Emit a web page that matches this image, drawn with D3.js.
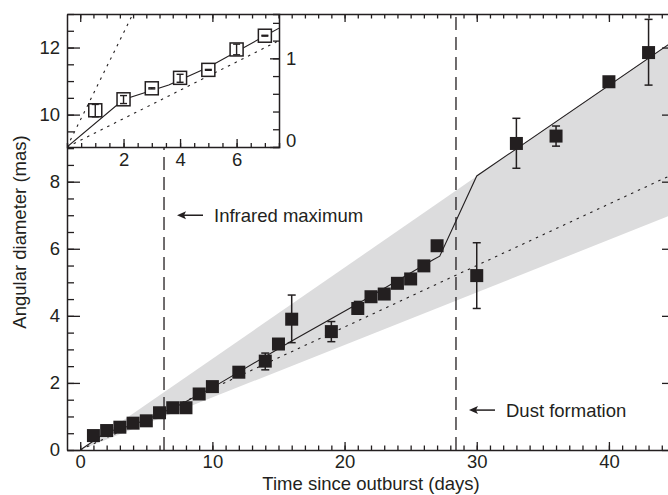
<!DOCTYPE html>
<html>
<head>
<meta charset="utf-8">
<script src="https://cdn.jsdelivr.net/npm/d3@7"></script>
<style>
  body { margin: 0; background: #fff; }
  svg { display: block; font-family: "Liberation Sans", Arial, sans-serif; }
</style>
</head>
<body>
<svg id="chart" width="668" height="495"></svg>
<script>
// measured angular diameters (main panel)
const days = [1, 2, 3, 4, 5, 6, 7, 8, 9, 10, 12, 14, 15, 16, 19, 21, 22, 23, 24, 25, 26, 27, 30, 33, 36, 40, 43]
const diameters = [0.43, 0.58, 0.68, 0.80, 0.87, 1.11, 1.26, 1.26, 1.67, 1.89, 2.32, 2.65, 3.16, 3.90, 3.53, 4.22, 4.57, 4.65, 4.97, 5.10, 5.49, 6.09, 5.20, 9.14, 9.36, 10.98, 11.85]

// error bars (main panel)
const errDays = [14, 16, 19, 21, 30, 33, 36, 43]
const errLow = [2.39, 3.20, 3.23, 4.05, 4.22, 8.40, 9.06, 10.88]
const errHigh = [2.89, 4.62, 3.83, 4.43, 6.18, 9.89, 9.66, 12.84]

// model curves (main panel)
const solidDays = [0, 2, 3.6, 5, 7.5, 10, 16, 21, 26.7, 27.2, 30, 45]
const solidValues = [0, 0.535, 0.70, 0.90, 1.34, 1.86, 3.25, 4.36, 5.67, 5.78, 8.17, 12.22]
const dottedDays = [0, 45]
const dottedValues = [0, 8.25]
const bandDays = [0, 45]
const bandLow = [0, 7.05]
const bandHigh = [0, 12.24]

// events
const eventDays = [6.34, 28.43]
const eventLabels = ['Infrared maximum', 'Dust formation']
const eventLabelY = [7.0, 1.19]

// inset panel (first week)
const insetDays = [1, 2, 3, 4, 5, 6, 7]
const insetValues = [0.414, 0.538, 0.662, 0.78, 0.87, 1.10, 1.255]
const insetLow = [0.34, 0.49, 0.655, 0.73, 0.865, 1.04, 1.25]
const insetHigh = [0.48, 0.58, 0.668, 0.82, 0.875, 1.16, 1.26]
const insetSolidDays = [0, 2, 3.6, 5, 7.5]
const insetSolidValues = [0, 0.535, 0.70, 0.90, 1.34]
const insetSteepDays = [0, 2.33]
const insetSteepValues = [0, 1.5]
const insetShallowDays = [0, 7.5]
const insetShallowValues = [0, 1.2]

// tick labels
const xMajor = [0, 10, 20, 30, 40]
const yMajor = [0, 2, 4, 6, 8, 10, 12]
const insetXMajor = [2, 4, 6]
const insetYMajor = [0, 1]

function makeChart() {
  const svg = d3.select('#chart')
  const ink = '#231f20'
  const fontSize = '18.5px'

  const x = d3.scaleLinear().domain([-1, 45]).range([67, 675])
  const y = d3.scaleLinear().domain([0, 13]).range([450, 14])
  const ix = d3.scaleLinear().domain([0, 7.5]).range([67, 279])
  const iy = d3.scaleLinear().domain([0, 1.5]).range([147, 14])

  const zip = (a, b) => a.map((d, i) => [d, b[i]])

  // grey band
  svg.append('path')
    .datum(bandDays.map((d, i) => [d, bandLow[i], bandHigh[i]]))
    .attr('d', d3.area().x(d => x(d[0])).y0(d => y(d[1])).y1(d => y(d[2])))
    .attr('fill', '#dcdcdd')

  // dotted line
  svg.append('path')
    .datum(zip(dottedDays, dottedValues))
    .attr('d', d3.line().x(d => x(d[0])).y(d => y(d[1])))
    .attr('fill', 'none').attr('stroke', ink).attr('stroke-width', 1.1)
    .attr('stroke-dasharray', '2.5,5')

  // event lines
  svg.selectAll('.event')
    .data(eventDays)
    .join('line')
    .attr('class', 'event')
    .attr('x1', d => x(d)).attr('x2', d => x(d))
    .attr('y1', y(0)).attr('y2', y(13))
    .attr('stroke', ink).attr('stroke-width', 1.3)
    .attr('stroke-dasharray', '13,7')

  // solid model line
  svg.append('path')
    .datum(zip(solidDays, solidValues))
    .attr('d', d3.line().x(d => x(d[0])).y(d => y(d[1])))
    .attr('fill', 'none').attr('stroke', ink).attr('stroke-width', 1.1)

  // error bars
  const errs = svg.append('g').attr('stroke', ink).attr('stroke-width', 1.5)
  errDays.forEach((d, i) => {
    errs.append('line').attr('x1', x(d)).attr('x2', x(d)).attr('y1', y(errLow[i])).attr('y2', y(errHigh[i]))
    errs.append('line').attr('x1', x(d) - 4).attr('x2', x(d) + 4).attr('y1', y(errLow[i])).attr('y2', y(errLow[i]))
    errs.append('line').attr('x1', x(d) - 4).attr('x2', x(d) + 4).attr('y1', y(errHigh[i])).attr('y2', y(errHigh[i]))
  })

  // squares
  const sq = 13
  svg.selectAll('.pt')
    .data(zip(days, diameters))
    .join('rect')
    .attr('class', 'pt')
    .attr('x', d => x(d[0]) - sq / 2)
    .attr('y', d => y(d[1]) - sq / 2)
    .attr('width', sq).attr('height', sq)
    .attr('fill', ink)

  // event annotations with arrows
  eventDays.forEach((d, i) => {
    const yy = y(eventLabelY[i])
    const tip = x(d) + 13
    const g = svg.append('g')
    g.append('line').attr('x1', tip + 6).attr('x2', tip + 26).attr('y1', yy).attr('y2', yy)
      .attr('stroke', ink).attr('stroke-width', 1.5)
    g.append('path')
      .attr('d', `M${tip},${yy}L${tip + 9},${yy - 4}L${tip + 7},${yy}L${tip + 9},${yy + 4}Z`)
      .attr('fill', ink)
    g.append('text').attr('x', tip + 37).attr('y', yy).attr('dy', '0.35em')
      .attr('font-size', fontSize).attr('fill', ink)
      .text(eventLabels[i])
  })

  // ----- inset -----
  const inset = svg.append('g')
  inset.append('rect')
    .attr('x', ix(0)).attr('y', iy(1.5))
    .attr('width', ix(7.5) - ix(0)).attr('height', iy(0) - iy(1.5))
    .attr('fill', '#fff')
  inset.append('clipPath').attr('id', 'insetClip')
    .append('rect')
    .attr('x', ix(0)).attr('y', iy(1.5))
    .attr('width', ix(7.5) - ix(0)).attr('height', iy(0) - iy(1.5))
  const ig = inset.append('g').attr('clip-path', 'url(#insetClip)')
  const iline = d3.line().x(d => ix(d[0])).y(d => iy(d[1]))
  ig.append('path').datum(zip(insetSteepDays, insetSteepValues)).attr('d', iline)
    .attr('fill', 'none').attr('stroke', ink).attr('stroke-width', 1.1).attr('stroke-dasharray', '2.5,5')
  ig.append('path').datum(zip(insetShallowDays, insetShallowValues)).attr('d', iline)
    .attr('fill', 'none').attr('stroke', ink).attr('stroke-width', 1.1).attr('stroke-dasharray', '2.5,5')
  ig.append('path').datum(zip(insetSolidDays, insetSolidValues)).attr('d', iline)
    .attr('fill', 'none').attr('stroke', ink).attr('stroke-width', 1.1)
  insetDays.forEach((d, i) => {
    ig.append('rect')
      .attr('x', ix(d) - 6.5).attr('y', iy(insetValues[i]) - 6.5)
      .attr('width', 13).attr('height', 13)
      .attr('fill', '#fff').attr('stroke', ink).attr('stroke-width', 1.5)
    const e = ig.append('g').attr('stroke', ink).attr('stroke-width', 1.4)
    e.append('line').attr('x1', ix(d)).attr('x2', ix(d)).attr('y1', iy(insetLow[i])).attr('y2', iy(insetHigh[i]))
    e.append('line').attr('x1', ix(d) - 3.5).attr('x2', ix(d) + 3.5).attr('y1', iy(insetLow[i])).attr('y2', iy(insetLow[i]))
    e.append('line').attr('x1', ix(d) - 3.5).attr('x2', ix(d) + 3.5).attr('y1', iy(insetHigh[i])).attr('y2', iy(insetHigh[i]))
  })

  // inset axes
  const styleAxis = (g, showDomain) => {
    g.selectAll('line').attr('stroke', ink).attr('stroke-width', 1.3)
    g.selectAll('path').attr('stroke', ink).attr('stroke-width', 1.5)
    if (!showDomain) g.select('.domain').remove()
    g.selectAll('text').attr('fill', ink).attr('font-size', fontSize)
      .attr('font-family', '"Liberation Sans", Arial, sans-serif')
  }
  inset.append('g').attr('transform', `translate(0,${iy(0)})`)
    .call(d3.axisBottom(ix).tickValues(d3.range(0.5, 7.5, 0.5)).tickSize(-4).tickFormat(''))
    .call(g => styleAxis(g, true))
  inset.append('g').attr('transform', `translate(0,${iy(0)})`)
    .call(d3.axisBottom(ix).tickValues(insetXMajor).tickSize(-8).tickPadding(6).tickFormat(d3.format('d')))
    .call(g => styleAxis(g, false))
  inset.append('g').attr('transform', `translate(${ix(7.5)},0)`)
    .call(d3.axisRight(iy).tickValues(d3.range(0.2, 1.5, 0.2)).tickSize(-6).tickFormat(''))
    .call(g => styleAxis(g, true))
  inset.append('g').attr('transform', `translate(${ix(7.5)},0)`)
    .call(d3.axisRight(iy).tickValues(insetYMajor).tickSize(-9).tickPadding(7).tickFormat(d3.format('d')))
    .call(g => styleAxis(g, false))
    .call(g => g.selectAll('text').filter(d => d === 0).attr('dy', '-0.05em'))

  // ----- main axes -----
  const minorX = d3.range(0, 46, 1)
  const minorY = d3.range(0, 13.01, 0.5)
  svg.append('g').attr('transform', `translate(0,${y(0)})`)
    .call(d3.axisBottom(x).tickValues(minorX).tickSize(-4.5).tickSizeOuter(0).tickFormat(''))
    .call(g => styleAxis(g, true))
  svg.append('g').attr('transform', `translate(0,${y(0)})`)
    .call(d3.axisBottom(x).tickValues(xMajor).tickSize(-8).tickPadding(5).tickFormat(d3.format('d')))
    .call(g => styleAxis(g, false))
  svg.append('g').attr('transform', `translate(0,${y(13)})`)
    .call(d3.axisTop(x).tickValues(minorX).tickSize(-4.5).tickSizeOuter(0).tickFormat(''))
    .call(g => styleAxis(g, true))
  svg.append('g').attr('transform', `translate(0,${y(13)})`)
    .call(d3.axisTop(x).tickValues(xMajor).tickSize(-8).tickFormat(''))
    .call(g => styleAxis(g, false))
  svg.append('g').attr('transform', `translate(${x(-1)},0)`)
    .call(d3.axisLeft(y).tickValues(minorY).tickSize(-7).tickSizeOuter(0).tickFormat(''))
    .call(g => styleAxis(g, true))
  svg.append('g').attr('transform', `translate(${x(-1)},0)`)
    .call(d3.axisLeft(y).tickValues(yMajor).tickSize(-13).tickPadding(7).tickFormat(d3.format('d')))
    .call(g => styleAxis(g, false))
  svg.append('g').attr('transform', `translate(${x(45)},0)`)
    .call(d3.axisRight(y).tickValues(minorY).tickSize(-7).tickSizeOuter(0).tickFormat(''))
    .call(g => styleAxis(g, true))
  svg.append('g').attr('transform', `translate(${x(45)},0)`)
    .call(d3.axisRight(y).tickValues(yMajor).tickSize(-13).tickFormat(''))
    .call(g => styleAxis(g, false))

  // axis titles
  svg.append('text')
    .attr('x', (x(-1) + x(45)) / 2).attr('y', 490)
    .attr('text-anchor', 'middle').attr('font-size', fontSize).attr('fill', ink)
    .text('Time since outburst (days)')
  svg.append('text')
    .attr('transform', `translate(26,${(y(0) + y(13)) / 2}) rotate(-90)`)
    .attr('text-anchor', 'middle').attr('font-size', fontSize).attr('fill', ink)
    .text('Angular diameter (mas)')
}

window.onload = makeChart
</script>
</body>
</html>
